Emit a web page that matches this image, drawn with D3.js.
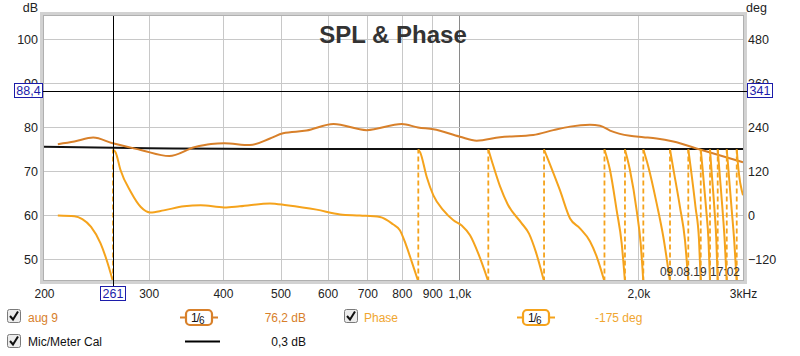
<!DOCTYPE html>
<html><head><meta charset="utf-8">
<script src="https://cdn.jsdelivr.net/npm/d3@7"></script>
<style>
body{margin:0;background:#fff;}
svg{display:block;font-family:"Liberation Sans",Arial,sans-serif;}
</style>
</head><body>
<svg id="c" width="800" height="356"></svg>
<script>
// ---------- data ----------
const splFreq = [211,225,242,261,291,325,358,382,402,444,480,505,553,614,698,800,852,904,1002,1069,1170,1331,1439,1535,1658,1724,1792,1936,2039,2147,2290,2540,3000];
const splDb   = [76.2,76.8,77.7,76.4,74.9,73.5,75.5,76.25,76.4,76.0,77.5,78.7,79.3,80.8,79.4,80.8,80.0,79.6,77.9,77.0,77.8,78.3,79.4,80.2,80.6,80.4,79.3,78.1,77.8,77.5,76.8,75.0,72.1];
const calFreq = [200,300,400,1000,3000];
const calDb   = [75.6,75.3,75.15,75.1,75.1];
const phaseSegments = [
  [[211,0],[225,-2],[232,-10],[240,-31],[249,-76],[255,-122],[261.3,-180]],
  [[261.3,180],[264,172],[269,124],[280,64],[291,23],[302,8],[318,14],[344,25],[367,28],[402,22],[427,25],[480,33],[512,28],[575,16],[630,3],[680,0],[735,-4],[773,-24],[794,-40],[813,-80],[832,-128],[852.7,-180]],
  [[852.7,180],[859,172],[881,105],[904,55],[940,14],[977,-13],[1009,-27],[1042,-54],[1076,-104],[1118.4,-180]],
  [[1118.4,180],[1133,150],[1170,80],[1206,30],[1271,-20],[1310,-50],[1345,-100],[1388,-180]],
  [[1388,180],[1411,151],[1476,69],[1535,-8],[1595,-35],[1658,-70],[1702,-112],[1754,-180]],
  [[1754,180],[1792,124],[1839,14],[1875,-76],[1899,-180]],
  [[1899,180],[1936,124],[1987,14],[2018,-76],[2039,-180]],
  [[2039,180],[2079,133],[2147,33],[2203,-58],[2261,-180]],
  [[2261,180],[2290,128],[2350,23],[2396,-67],[2427,-180]],
  [[2427,180],[2451,128],[2496,23],[2530,-67],[2547,-180]],
  [[2547,180],[2566,125],[2600,20],[2625,-70],[2640,-180]],
  [[2640,180],[2655,125],[2685,20],[2706,-70],[2720,-180]],
  [[2720,180],[2737,125],[2770,20],[2795,-70],[2817,-180]],
  [[2817,180],[2835,125],[2870,20],[2900,-70],[2928,-180]],
  [[2928,180],[2950,120],[3000,55]]
];
const wrapFreqs = [261.3,852.7,1118.4,1388,1754,1899,2039,2261,2427,2547,2640,2720,2817,2928];
const xTicks = [200,300,400,500,600,700,800,900,1000,2000,3000];
const xTickLabels = ["200","300","400","500","600","700","800","900","1,0k","2,0k","3kHz"];
const gridFreqs = [300,400,500,600,700,800,900,1000,2000];
const dbTicks = [50,60,70,80,90,100];
const degTicks = [-120,0,120,240,360,480];
const cursorFreq = 261, cursorDb = 88.4, cursorDeg = 341;

// ---------- layout ----------
const L=44,R=743,T=16,B=280;
const splColor="#d8802a", phaseColor="#f5a31c", blue="#1c1caa";
const x=d3.scaleLog().domain([200,3000]).range([L,R]);
const y=d3.scaleLinear().domain([45.34,105.34]).range([B,T]);
const yDeg=d3.scaleLinear().domain([-175.92,544.08]).range([B,T]);
const svg=d3.select('#c');
svg.append('defs').append('clipPath').attr('id','clip')
  .append('rect').attr('x',L).attr('y',T).attr('width',R-L).attr('height',B-T);

// frame
svg.append('rect').attr('x',L-2).attr('y',T-2).attr('width',R-L+4).attr('height',B-T+4)
  .attr('fill','#fff').attr('stroke','#d2d2d2').attr('stroke-width',4);
svg.append('rect').attr('x',L-0.5).attr('y',T-0.5).attr('width',R-L+1).attr('height',B-T+1)
  .attr('fill','#fff').attr('stroke','#b0b0b0').attr('stroke-width',1);

// grid
const grid=svg.append('g');
grid.selectAll('line.v').data(gridFreqs).join('line').attr('class','v')
  .attr('x1',d=>Math.round(x(d))+0.5).attr('x2',d=>Math.round(x(d))+0.5).attr('y1',T).attr('y2',B)
  .attr('stroke',d=>d===1000?'#8a8a8a':'#c8c8c8').attr('stroke-width',1);
grid.selectAll('line.h').data(dbTicks).join('line').attr('class','h')
  .attr('x1',L).attr('x2',R).attr('y1',d=>Math.round(y(d))+0.5).attr('y2',d=>Math.round(y(d))+0.5)
  .attr('stroke','#c8c8c8').attr('stroke-width',1);

const plot=svg.append('g').attr('clip-path','url(#clip)');
// cal line
plot.append('path').datum(calFreq.map((f,i)=>[f,calDb[i]]))
  .attr('d',d3.line().x(d=>x(d[0])).y(d=>y(d[1])).curve(d3.curveMonotoneX))
  .attr('fill','none').attr('stroke','#111').attr('stroke-width',2);
// SPL
plot.append('path').datum(splFreq.map((f,i)=>[f,splDb[i]]))
  .attr('d',d3.line().x(d=>x(d[0])).y(d=>y(d[1])).curve(d3.curveMonotoneX))
  .attr('fill','none').attr('stroke',splColor).attr('stroke-width',2);
// phase wraps (dashed)
plot.selectAll('line.w').data(wrapFreqs).join('line').attr('class','w')
  .attr('x1',d=>x(d)).attr('x2',d=>x(d)).attr('y1',yDeg(-180)).attr('y2',yDeg(180))
  .attr('stroke',phaseColor).attr('stroke-width',1.8).attr('stroke-dasharray','5,3');
// phase segments
const pl=d3.line().x(d=>x(d[0])).y(d=>yDeg(d[1])).curve(d3.curveMonotoneX);
plot.selectAll('path.p').data(phaseSegments).join('path').attr('class','p')
  .attr('d',pl).attr('fill','none').attr('stroke',phaseColor).attr('stroke-width',2);

// cursor
const cx=Math.round(x(cursorFreq))+0.5, cy=Math.round(y(cursorDb))+0.5;
svg.append('line').attr('x1',cx).attr('x2',cx).attr('y1',T).attr('y2',287).attr('stroke','#000').attr('stroke-width',1);
svg.append('line').attr('x1',42).attr('x2',748).attr('y1',cy).attr('y2',cy).attr('stroke','#000').attr('stroke-width',1);

// axes
const axL=svg.append('g').attr('transform',`translate(${L},0)`)
  .call(d3.axisLeft(y).tickValues(dbTicks).tickSize(0).tickPadding(6));
const axR=svg.append('g').attr('transform',`translate(${R},0)`)
  .call(d3.axisRight(yDeg).tickValues(degTicks).tickSize(0).tickPadding(5));
const axB=svg.append('g').attr('transform',`translate(0,${B})`)
  .call(d3.axisBottom(x).tickValues(xTicks).tickFormat((d,i)=>xTickLabels[i]).tickSize(0).tickPadding(9.5));
[axL,axR,axB].forEach(a=>{a.select('.domain').remove();a.selectAll('text').attr('fill','#222').style('font-size','12.5px').style('font-family','"Liberation Sans",Arial,sans-serif');});
axB.selectAll('text').style('font-size','12px');

svg.append('text').attr('x',38).attr('y',12).attr('text-anchor','end').attr('font-size',12.5).attr('fill','#222').text('dB');
svg.append('text').attr('x',746).attr('y',12).attr('font-size',12.5).attr('fill','#222').text('deg');

// title
svg.append('text').attr('x',393).attr('y',43).attr('text-anchor','middle').attr('font-size',24).attr('font-weight','bold').attr('fill','#333').text('SPL & Phase');
// timestamp
svg.append('text').attr('x',740).attr('y',276).attr('text-anchor','end').attr('font-size',12).attr('fill','#333').text('09.08.19 17:02');

// cursor boxes
function box(x0,y0,w,h,label){
  svg.append('rect').attr('x',x0+0.5).attr('y',y0+0.5).attr('width',w).attr('height',h).attr('fill','#fff').attr('stroke',blue).attr('stroke-width',1);
  svg.append('text').attr('x',x0+w/2+0.5).attr('y',y0+h-2.5).attr('text-anchor','middle').attr('font-size',12.5).attr('fill',blue).text(label);
}
box(14,83,28,14,d3.format('.1f')(cursorDb).replace('.',','));
box(747,83,25,14,String(cursorDeg));
box(100,286,25,14,String(cursorFreq));

// legend
function checkbox(x0,y0){
  const g=svg.append('g').attr('transform',`translate(${x0},${y0})`);
  g.append('rect').attr('x',0.5).attr('y',0.5).attr('width',13).attr('height',13).attr('rx',2).attr('fill','#ececec').attr('stroke','#7a7a7a');
  g.append('path').attr('d','M3,7 L6,10.5 L11,2.5').attr('fill','none').attr('stroke','#111').attr('stroke-width',2);
}
function smooth(x0,y0,col){
  svg.append('line').attr('x1',x0).attr('x2',x0+38).attr('y1',y0+8.5).attr('y2',y0+8.5).attr('stroke',col).attr('stroke-width',2);
  svg.append('rect').attr('x',x0+6).attr('y',y0+1).attr('width',26).attr('height',15).attr('rx',4).attr('fill','#fff').attr('stroke',col).attr('stroke-width',2.2);
  const t=svg.append('text').attr('x',x0+11).attr('y',y0+12.5).attr('fill','#111').attr('font-size',12);
  t.append('tspan').text('1');
  t.append('tspan').text('/').attr('dx',-1);
  t.append('tspan').text('6').attr('font-size',10).attr('dy',2).attr('dx',-1);
}
checkbox(7,309);
svg.append('text').attr('x',28).attr('y',322).attr('font-size',12).attr('fill',splColor).text('aug 9');
smooth(180,309,splColor);
svg.append('text').attr('x',306).attr('y',322).attr('text-anchor','end').attr('font-size',12).attr('fill',splColor).text('76,2 dB');
checkbox(344,309);
svg.append('text').attr('x',364).attr('y',322).attr('font-size',12).attr('fill','#f0a630').text('Phase');
smooth(517,309,phaseColor);
svg.append('text').attr('x',595).attr('y',322).attr('font-size',12).attr('fill','#f0a630').text('-175 deg');
checkbox(7,334);
svg.append('text').attr('x',28).attr('y',346).attr('font-size',12).attr('fill','#111').text('Mic/Meter Cal');
svg.append('line').attr('x1',185).attr('x2',220).attr('y1',341.5).attr('y2',341.5).attr('stroke','#000').attr('stroke-width',2);
svg.append('text').attr('x',306).attr('y',346).attr('text-anchor','end').attr('font-size',12).attr('fill','#111').text('0,3 dB');
</script>
</body></html>
